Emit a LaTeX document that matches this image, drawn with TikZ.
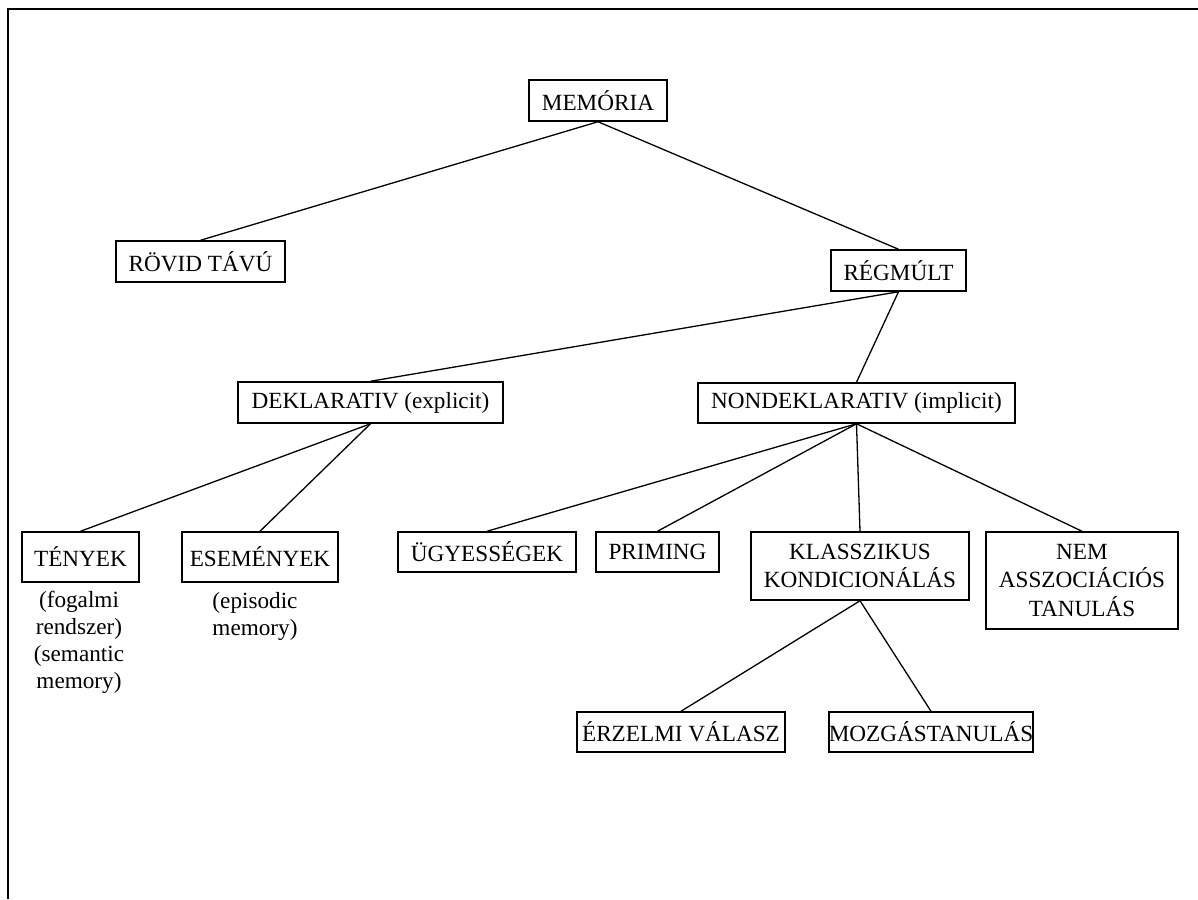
\documentclass[tikz,border=0pt]{standalone}
\usepackage{fontspec}
\setmainfont{Liberation Serif}
\begin{document}
\begin{tikzpicture}[x=1pt,y=-1pt,
  box/.style={draw, line width=1.5pt, inner sep=0pt, align=center,
    font=\fontsize{23.2}{28.3}\selectfont},
  note/.style={inner sep=0pt, align=center,
    font=\fontsize{23.2}{27}\selectfont},
  link/.style={line width=1.3pt}]
\useasboundingbox (0,0) rectangle (1198,899);
% outer frame (open to the right and bottom)
\draw[line width=2.6pt] (8,899) -- (8,9) -- (1198,9);

% boxes
\node[box, minimum width=138pt, minimum height=41pt] (mem)    at (598,100.5) {MEMÓRIA};
\node[box, minimum width=169pt, minimum height=41pt] (rovid)  at (200.5,261.5) {RÖVID TÁVÚ};
\node[box, minimum width=135pt, minimum height=41pt] (regm)   at (898.5,270.5) {RÉGMÚLT};
\node[box, minimum width=265pt, minimum height=41pt] (dekl)   at (370.5,402.5) {DEKLARATIV (explicit)};
\node[box, minimum width=317pt, minimum height=40pt] (nond)   at (856.5,403) {NONDEKLARATIV (implicit)};
\node[box, minimum width=117pt, minimum height=50pt] (teny)   at (80.5,557) {TÉNYEK};
\node[box, minimum width=156pt, minimum height=50pt] (esem)   at (260,557) {ESEMÉNYEK};
\node[box, minimum width=178pt, minimum height=40pt] (ugy)    at (487,552) {ÜGYESSÉGEK};
\node[box, minimum width=123pt, minimum height=40pt] (prim)   at (657.5,552) {PRIMING};
\node[box, minimum width=218pt, minimum height=68pt] (klassz) at (860,566) {KLASSZIKUS\\KONDICIONÁLÁS};
\node[box, minimum width=192pt, minimum height=97pt] (nem)    at (1082,580.5) {NEM\\ASSZOCIÁCIÓS\\TANULÁS};
\node[box, minimum width=208pt, minimum height=40pt] (erz)    at (681,732) {ÉRZELMI VÁLASZ};
\node[box, minimum width=204pt, minimum height=40pt] (mozg)   at (931,732) {MOZGÁSTANULÁS};

% notes under the declarative leaves
\node[note] (tenynote) at (79,642) {(fogalmi\\rendszer)\\(semantic\\memory)};
\node[note] (esemnote) at (255,616.5) {(episodic\\memory)};

% connectors
\draw[link] (mem.south) -- (rovid.north);
\draw[link] (mem.south) -- (regm.north);
\draw[link] (regm.south) -- (dekl.north);
\draw[link] (regm.south) -- (nond.north);
\draw[link] (dekl.south) -- (teny.north);
\draw[link] (dekl.south) -- (esem.north);
\draw[link] (nond.south) -- (ugy.north);
\draw[link] (nond.south) -- (prim.north);
\draw[link] (nond.south) -- (klassz.north);
\draw[link] (nond.south) -- (nem.north);
\draw[link] (klassz.south) -- (erz.north);
\draw[link] (klassz.south) -- (mozg.north);
\end{tikzpicture}
\end{document}
